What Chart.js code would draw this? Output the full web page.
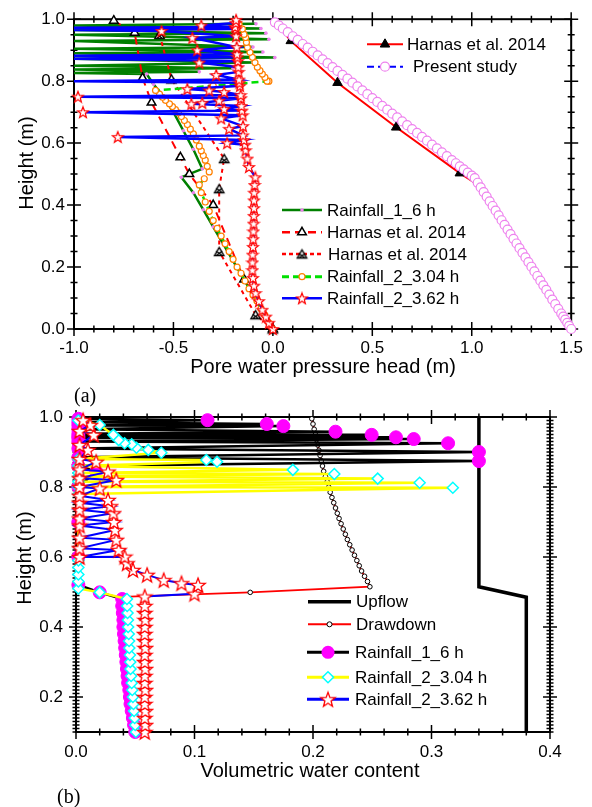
<!DOCTYPE html>
<html>
<head>
<meta charset="utf-8">
<script src="https://cdn.jsdelivr.net/npm/chart.js@4.4.1/dist/chart.umd.min.js"></script>
<style>
html, body { margin: 0; padding: 0; background: #fff; }
#wrap { position: relative; width: 592px; height: 807px; overflow: hidden; }
canvas { position: absolute; left: 0; }
#c1 { top: 0; width: 592px; height: 385px; }
#c2 { top: 385px; width: 592px; height: 422px; }
.tag { position: absolute; font-family: "Liberation Serif", serif; font-size: 20px; color: #000; line-height: 23px; }
</style>
</head>
<body>
<div id="wrap">
  <canvas id="c1" width="592" height="385"></canvas>
  <canvas id="c2" width="592" height="422"></canvas>
  <div class="tag" style="left:74px; top:384px">(a)</div>
  <div class="tag" style="left:57px; top:785px">(b)</div>
</div>
<script>
// ---- axis ticks / labels
const topXTicks = [-1.0, -0.5, 0.0, 0.5, 1.0, 1.5];
const topYTicks = [0.0, 0.2, 0.4, 0.6, 0.8, 1.0];
const botXTicks = [0.0, 0.1, 0.2, 0.3, 0.4];
const botYTicks = [0.2, 0.4, 0.6, 0.8, 1.0];
const topLabels = ['Harnas et al. 2014', 'Present study', 'Rainfall_1_6 h', 'Harnas et al. 2014',
                   'Harnas et al. 2014', 'Rainfall_2_3.04 h', 'Rainfall_2_3.62 h'];
const botLabels = ['Upflow', 'Drawdown', 'Rainfall_1_6 h', 'Rainfall_2_3.04 h', 'Rainfall_2_3.62 h'];

// ---- (a) pore water pressure head vs height
const harnasX = [0.0, 0.09, 0.325, 0.62, 0.94, 1.02, 1.5];
const harnasY = [1.0, 0.93, 0.795, 0.651, 0.503, 0.47, 0.0];

const presentX = [0.01, 0.03, 0.05, 0.075, 0.10, 0.125, 0.15, 0.175, 0.20, 0.225, 0.25, 0.275, 0.30, 0.325,
  0.35, 0.375, 0.40, 0.425, 0.45, 0.475, 0.50, 0.525, 0.55, 0.575, 0.60, 0.625, 0.65, 0.675, 0.70, 0.725,
  0.75, 0.775, 0.80, 0.825, 0.85, 0.875, 0.90, 0.92, 0.94, 0.96, 0.98, 1.00, 1.015,
  1.03, 1.045, 1.06, 1.075, 1.09, 1.105, 1.12, 1.135, 1.15, 1.165, 1.18, 1.195, 1.21, 1.225, 1.24, 1.255,
  1.27, 1.285, 1.30, 1.315, 1.33, 1.345, 1.36, 1.375, 1.39, 1.405, 1.42, 1.435, 1.45, 1.46, 1.47, 1.48, 1.49, 1.50];
const presentY = [0.99, 0.98, 0.97, 0.958, 0.945, 0.933, 0.92, 0.908, 0.895, 0.883, 0.87, 0.858, 0.845, 0.833,
  0.82, 0.808, 0.795, 0.783, 0.77, 0.758, 0.745, 0.733, 0.72, 0.708, 0.695, 0.683, 0.67, 0.658, 0.645, 0.633,
  0.62, 0.608, 0.595, 0.583, 0.57, 0.558, 0.545, 0.535, 0.525, 0.515, 0.505, 0.495, 0.487,
  0.472, 0.457, 0.442, 0.427, 0.412, 0.397, 0.382, 0.367, 0.351, 0.336, 0.321, 0.306, 0.291, 0.276, 0.261, 0.246,
  0.231, 0.216, 0.201, 0.186, 0.171, 0.156, 0.141, 0.126, 0.111, 0.095, 0.080, 0.065, 0.05, 0.04, 0.03, 0.02, 0.01, 0.0];

const rain1X = [0.0, -0.05, -0.1, -0.15, -0.2, -0.25, -0.3, -0.35, -0.4, -0.46,
  -0.355, -0.40, -0.45, -0.50, -0.55, -0.60, -0.635,
  -1.0, -0.37, -1.0, -0.2, -1.0, -0.1, -1.0, 0.01, -1.0, -0.05, -1.0, -0.1, -1.0, -0.02, -1.0, -0.035, -1.0, -0.06, -1.0, -0.085];
const rain1Y = [0.0, 0.055, 0.11, 0.165, 0.22, 0.275, 0.33, 0.385, 0.44, 0.49,
  0.517, 0.58, 0.64, 0.70, 0.75, 0.79, 0.823,
  0.826, 0.83, 0.838, 0.842, 0.85, 0.86, 0.872, 0.876, 0.89, 0.894, 0.905, 0.91, 0.93, 0.935, 0.95, 0.955, 0.965, 0.97, 0.98, 0.985];

const harnasOpenX = [-0.80, -0.695, -0.655, -0.61, -0.465, -0.42, -0.30, -0.145, 0.0];
const harnasOpenY = [0.995, 0.956, 0.81, 0.731, 0.554, 0.50, 0.40, 0.16, 0.0];

const harnasCrossX = [-0.57, -0.51, -0.245, -0.27, -0.27, -0.087, 0.0];
const harnasCrossY = [0.951, 0.807, 0.55, 0.453, 0.25, 0.046, 0.0];

const rain2aX = [0.0, -0.02, -0.04, -0.06, -0.08, -0.10, -0.12, -0.14, -0.16, -0.18, -0.20, -0.22, -0.24, -0.26,
  -0.28, -0.30, -0.32, -0.34, -0.36, -0.37, -0.345, -0.32, -0.33, -0.34, -0.35, -0.36, -0.37, -0.385, -0.40,
  -0.415, -0.43, -0.445, -0.46, -0.475, -0.49, -0.505, -0.52, -0.54, -0.555, -0.57, -0.59, -0.30, -0.02,
  -0.029, -0.04, -0.053, -0.065, -0.078, -0.09, -0.103, -0.115, -0.128, -0.133, -0.137, -0.145, -0.153, -0.17];
const rain2aY = [0.0, 0.02, 0.045, 0.065, 0.09, 0.11, 0.13, 0.155, 0.18, 0.20, 0.225, 0.25, 0.275, 0.30,
  0.325, 0.35, 0.38, 0.41, 0.44, 0.465, 0.485, 0.507, 0.525, 0.545, 0.56, 0.575, 0.59, 0.61, 0.63,
  0.645, 0.66, 0.673, 0.686, 0.698, 0.708, 0.718, 0.727, 0.738, 0.748, 0.758, 0.77, 0.785, 0.80,
  0.80, 0.812, 0.823, 0.834, 0.845, 0.86, 0.877, 0.893, 0.909, 0.925, 0.941, 0.951, 0.968, 0.984];

const rain2bX = [0.0, -0.02, -0.035, -0.053, -0.07, -0.087, -0.095, -0.1, -0.103, -0.103, -0.102, -0.1, -0.099,
  -0.098, -0.097, -0.096, -0.095, -0.095, -0.094, -0.092, -0.088, -0.12, -0.128, -0.137, -0.14,
  -0.23, -0.145, -0.78, -0.15, -0.22, -0.15, -0.26, -0.152, -0.955, -0.155, -0.245, -0.158, -0.41, -0.355,
  -0.27, -0.16, -0.98, -0.162, -0.245, -0.32, -0.43, -0.165, -0.168, -1.0, -0.17, -0.285, -0.172, -0.174,
  -0.37, -0.176, -1.0, -0.178, -1.0, -0.18, -0.38, -0.182, -0.405, -0.185, -0.56, -1.0, -0.185, -1.0,
  -0.19, -0.36, -0.187, -0.185];
const rain2bY = [0.0, 0.02, 0.04, 0.062, 0.09, 0.116, 0.14, 0.165, 0.19, 0.215, 0.24, 0.265, 0.29,
  0.315, 0.34, 0.365, 0.39, 0.415, 0.44, 0.465, 0.49, 0.523, 0.55, 0.577, 0.595,
  0.60, 0.61, 0.62, 0.625, 0.646, 0.655, 0.68, 0.69, 0.70, 0.705, 0.71, 0.72, 0.727, 0.73,
  0.737, 0.745, 0.75, 0.755, 0.765, 0.77, 0.775, 0.785, 0.795, 0.80, 0.805, 0.82, 0.83, 0.845,
  0.86, 0.865, 0.872, 0.877, 0.882, 0.887, 0.90, 0.91, 0.94, 0.945, 0.962, 0.965, 0.968, 0.972,
  0.975, 0.98, 0.988, 0.998];

// ---- (b) volumetric water content vs height
const upflowX = [0.34, 0.34, 0.38, 0.38];
const upflowY = [1.0, 0.515, 0.485, 0.1];

const drawdownX = [0.199, 0.200, 0.201, 0.202, 0.203, 0.204, 0.205, 0.206, 0.207, 0.208, 0.209, 0.2105, 0.212,
  0.2133, 0.2145, 0.216, 0.2175, 0.219, 0.2205, 0.222, 0.2237, 0.2255, 0.2273, 0.229, 0.231, 0.233, 0.235,
  0.237, 0.239, 0.241, 0.2435, 0.246, 0.248, 0.147, 0.045];
const drawdownY = [0.995, 0.98, 0.965, 0.95, 0.935, 0.92, 0.905, 0.89, 0.875, 0.86, 0.845, 0.83, 0.815,
  0.80, 0.785, 0.77, 0.755, 0.74, 0.725, 0.71, 0.695, 0.68, 0.665, 0.65, 0.635, 0.62, 0.605,
  0.59, 0.575, 0.56, 0.545, 0.53, 0.515, 0.499, 0.487];

const wc1X = [0.050, 0.049, 0.048, 0.047, 0.046, 0.0455, 0.045, 0.044, 0.0435, 0.043, 0.0425, 0.042, 0.0415,
  0.041, 0.0405, 0.040, 0.040, 0.0395, 0.039, 0.039,
  0.02, 0.002, 0.002, 0.002, 0.002, 0.017, 0.002, 0.34, 0.002, 0.34, 0.002, 0.314, 0.002, 0.285, 0.002,
  0.27, 0.002, 0.2495, 0.002, 0.219, 0.002, 0.175, 0.002, 0.161, 0.002, 0.111, 0.002];
const wc1Y = [0.10, 0.12, 0.14, 0.16, 0.18, 0.20, 0.22, 0.24, 0.26, 0.28, 0.30, 0.32, 0.34,
  0.36, 0.38, 0.40, 0.42, 0.44, 0.46, 0.48,
  0.499, 0.52, 0.60, 0.70, 0.80, 0.844, 0.86, 0.874, 0.885, 0.90, 0.91, 0.925, 0.93, 0.937, 0.94,
  0.942, 0.945, 0.949, 0.952, 0.958, 0.965, 0.974, 0.976, 0.98, 0.985, 0.991, 0.995];

const wc2aX = [0.0505, 0.050, 0.0495, 0.049, 0.0485, 0.048, 0.0475, 0.047, 0.0465, 0.046, 0.0458, 0.0455,
  0.045, 0.0448, 0.0445, 0.044, 0.0438, 0.0435, 0.0432, 0.043,
  0.02, 0.002, 0.002, 0.002, 0.002, 0.002, 0.002, 0.318, 0.002, 0.29, 0.002, 0.2546, 0.002, 0.218, 0.002,
  0.183, 0.002, 0.119, 0.11, 0.002, 0.072, 0.061, 0.051, 0.047, 0.041, 0.036, 0.0315, 0.02, 0.002];
const wc2aY = [0.10, 0.12, 0.14, 0.16, 0.18, 0.20, 0.22, 0.24, 0.26, 0.28, 0.30, 0.32,
  0.34, 0.36, 0.38, 0.40, 0.42, 0.44, 0.46, 0.48,
  0.499, 0.51, 0.53, 0.55, 0.57, 0.59, 0.78, 0.798, 0.80, 0.812, 0.815, 0.824, 0.83, 0.837, 0.84,
  0.849, 0.86, 0.872, 0.877, 0.88, 0.898, 0.906, 0.912, 0.922, 0.925, 0.934, 0.949, 0.977, 0.99];

const wc2bX = [0.058, 0.0585, 0.058, 0.0585, 0.058, 0.058, 0.0585, 0.058, 0.058, 0.0585, 0.058, 0.058,
  0.0585, 0.058, 0.058, 0.058, 0.0585, 0.058, 0.058, 0.058,
  0.1, 0.103, 0.089, 0.074, 0.06, 0.048, 0.043, 0.041, 0.003, 0.036, 0.003, 0.034, 0.003, 0.033, 0.003,
  0.032, 0.003, 0.0315, 0.003, 0.029, 0.003, 0.027, 0.003, 0.02, 0.003, 0.034, 0.003, 0.027, 0.003,
  0.017, 0.003, 0.01, 0.003, 0.015, 0.003, 0.012, 0.006];
const wc2bY = [0.10, 0.12, 0.14, 0.16, 0.18, 0.20, 0.22, 0.24, 0.26, 0.28, 0.30, 0.32,
  0.34, 0.36, 0.38, 0.40, 0.42, 0.44, 0.46, 0.487,
  0.495, 0.52, 0.525, 0.534, 0.549, 0.563, 0.582, 0.601, 0.60, 0.62, 0.625, 0.649, 0.655, 0.677, 0.69,
  0.70, 0.71, 0.725, 0.735, 0.745, 0.755, 0.763, 0.775, 0.796, 0.80, 0.82, 0.825, 0.844, 0.85,
  0.872, 0.88, 0.906, 0.92, 0.949, 0.96, 0.977, 0.991];

// ---- helpers
const FONT = '"Liberation Sans", Arial, sans-serif';
const VIOLET = '#ee82ee';

function pts(xs, ys) { return xs.map((x, i) => ({ x: x, y: ys[i] })); }

function starImage(size, color, lw) {
  const c = document.createElement('canvas');
  c.width = c.height = size;
  const g = c.getContext('2d');
  const R = size / 2 - lw, r = R * 0.42, cx = size / 2, cy = size / 2 + R * 0.095;
  g.beginPath();
  for (let i = 0; i < 10; i++) {
    const a = -Math.PI / 2 + i * Math.PI / 5, rr = i % 2 ? r : R;
    g.lineTo(cx + rr * Math.cos(a), cy + rr * Math.sin(a));
  }
  g.closePath();
  g.fillStyle = '#fff'; g.fill();
  g.strokeStyle = color; g.lineWidth = lw; g.stroke();
  return c;
}

function crossTriImage(size) {
  const c = document.createElement('canvas');
  c.width = c.height = size;
  const g = c.getContext('2d');
  const R = size / 2 - 1, cx = size / 2, cy = size / 2 + R * 0.25;
  g.strokeStyle = '#000'; g.lineWidth = 1.3;
  g.beginPath();
  g.moveTo(cx, cy - R);
  g.lineTo(cx - R * 0.866, cy + R * 0.5);
  g.lineTo(cx + R * 0.866, cy + R * 0.5);
  g.closePath();
  g.fillStyle = '#fff'; g.fill(); g.stroke();
  g.beginPath();
  g.moveTo(cx - R * 0.55, cy - R * 0.35); g.lineTo(cx + R * 0.55, cy + R * 0.5);
  g.moveTo(cx + R * 0.55, cy - R * 0.35); g.lineTo(cx - R * 0.55, cy + R * 0.5);
  g.stroke();
  return c;
}

const starTop = starImage(14, '#ff0000', 1.2);
const starBot = starImage(18, '#ff0000', 1.3);
const crossTri = crossTriImage(13);

function drawMarker(ctx, m, x, y) {
  if (!m) return;
  ctx.save();
  ctx.setLineDash([]);
  if (m.img) {
    ctx.drawImage(m.img, x - m.img.width / 2, y - m.img.height / 2);
    ctx.restore();
    return;
  }
  const r = m.r;
  ctx.lineWidth = m.lw || 1;
  ctx.beginPath();
  if (m.shape === 'circle') {
    ctx.arc(x, y, r, 0, Math.PI * 2);
  } else if (m.shape === 'triangle') {
    ctx.moveTo(x, y - r);
    ctx.lineTo(x + r * 0.866, y + r * 0.5);
    ctx.lineTo(x - r * 0.866, y + r * 0.5);
  } else if (m.shape === 'diamond') {
    ctx.moveTo(x, y - r); ctx.lineTo(x + r, y); ctx.lineTo(x, y + r); ctx.lineTo(x - r, y);
  }
  ctx.closePath();
  if (m.fill) { ctx.fillStyle = m.fill; ctx.fill(); }
  if (m.stroke) { ctx.strokeStyle = m.stroke; ctx.stroke(); }
  ctx.restore();
}

function drawLegend(ctx, lg) {
  lg.items.forEach((it, i) => {
    const y = lg.rows[i];
    const x0 = it.x0 !== undefined ? it.x0 : lg.x0;
    const x1 = it.x1 !== undefined ? it.x1 : lg.x1;
    const tx = it.tx !== undefined ? it.tx : lg.tx;
    ctx.save();
    ctx.strokeStyle = it.color; ctx.lineWidth = it.width;
    ctx.setLineDash(it.dash || []);
    ctx.beginPath(); ctx.moveTo(x0, y); ctx.lineTo(x1, y); ctx.stroke();
    ctx.restore();
    drawMarker(ctx, it.marker, (x0 + x1) / 2, y);
    ctx.save();
    ctx.fillStyle = '#000'; ctx.font = '17px ' + FONT;
    ctx.textAlign = 'left'; ctx.textBaseline = 'middle';
    ctx.fillText(it.label, tx, y + 1);
    ctx.restore();
  });
}

// frame with mirrored, crossing ticks + titles + legends
const framePlugin = {
  id: 'frame',
  beforeDatasetsDraw(chart) {
    const o = chart.options.plugins.frame;
    const { ctx, chartArea: a } = chart;
    const sx = chart.scales.x, sy = chart.scales.y;
    ctx.save();
    ctx.strokeStyle = '#000';
    ctx.setLineDash([]);
    ctx.lineWidth = 2;
    ctx.strokeRect(a.left, a.top, a.right - a.left, a.bottom - a.top);
    ctx.lineWidth = 1.5;
    ctx.beginPath();
    const xTick = (v, len) => {
      const p = sx.getPixelForValue(v);
      ctx.moveTo(p, a.bottom - len); ctx.lineTo(p, a.bottom + len);
      ctx.moveTo(p, a.top - len); ctx.lineTo(p, a.top + len);
    };
    const yTick = (v, len) => {
      const p = sy.getPixelForValue(v);
      ctx.moveTo(a.left - len, p); ctx.lineTo(a.left + len, p);
      ctx.moveTo(a.right - len, p); ctx.lineTo(a.right + len, p);
    };
    for (let v = sx.min; v <= sx.max + 1e-9; v += o.xMinor) xTick(v, 3.5);
    for (let v = sy.min; v <= sy.max + 1e-9; v += o.yMinor) yTick(v, 3.5);
    o.xMajor.forEach(v => xTick(v, 7));
    o.yMajor.forEach(v => yTick(v, 7));
    ctx.stroke();
    ctx.restore();
  },
  afterDraw(chart) {
    const o = chart.options.plugins.frame;
    const ctx = chart.ctx;
    ctx.save();
    ctx.fillStyle = '#000';
    ctx.font = '20px ' + FONT;
    ctx.textAlign = 'center'; ctx.textBaseline = 'middle';
    ctx.fillText(o.xTitle, o.xTitlePos[0], o.xTitlePos[1]);
    ctx.translate(o.yTitlePos[0], o.yTitlePos[1]);
    ctx.rotate(-Math.PI / 2);
    ctx.fillText(o.yTitle, 0, 0);
    ctx.restore();
    o.legends.forEach(lg => drawLegend(ctx, lg));
  }
};

function axis(min, max, ticks, pad, isX, size) {
  const s = {
    type: 'linear', min: min, max: max,
    grid: { display: false, drawTicks: false },
    border: { display: false },
    ticks: {
      color: '#000', padding: pad, autoSkip: false, maxRotation: 0,
      font: { family: FONT, size: 17 },
      callback: v => Number(v).toFixed(1)
    },
    afterBuildTicks: sc => { sc.ticks = ticks.map(v => ({ value: v })); }
  };
  if (isX) s.afterFit = sc => { sc.height = size; };
  else s.afterFit = sc => { sc.width = size; };
  return s;
}

function line(label, xs, ys, o) {
  return Object.assign({
    label: label, data: pts(xs, ys), showLine: true, tension: 0, clip: 16,
    pointHoverRadius: 0, pointHitRadius: 0
  }, o);
}

const leftEdgeR = r => c => (c.raw && c.raw.x <= -0.999 ? 0 : r);

// ---- chart (a)
new Chart(document.getElementById('c1'), {
  type: 'scatter',
  data: {
    datasets: [
      line(topLabels[6], rain2bX, rain2bY, { borderColor: '#0000ff', borderWidth: 2.5,
        pointStyle: starTop, pointRadius: leftEdgeR(6) }),
      line(topLabels[5], rain2aX, rain2aY, { borderColor: '#00e000', borderWidth: 2.5, borderDash: [7, 4],
        pointStyle: 'circle', pointRadius: 3, pointBackgroundColor: '#fff', pointBorderColor: '#ff8000', pointBorderWidth: 1.2 }),
      line(topLabels[4], harnasCrossX, harnasCrossY, { borderColor: '#ff0000', borderWidth: 2, borderDash: [4, 4],
        pointStyle: crossTri, pointRadius: 6 }),
      line(topLabels[3], harnasOpenX, harnasOpenY, { borderColor: '#ff0000', borderWidth: 2, borderDash: [8, 6],
        pointStyle: 'triangle', pointRadius: 5, pointBackgroundColor: '#fff', pointBorderColor: '#000', pointBorderWidth: 1.5 }),
      line(topLabels[2], rain1X, rain1Y, { borderColor: '#008000', borderWidth: 2.5,
        pointStyle: 'circle', pointRadius: leftEdgeR(1.8), pointBackgroundColor: VIOLET, pointBorderColor: VIOLET, pointBorderWidth: 0 }),
      line(topLabels[1], presentX, presentY, { borderColor: '#0000ff', borderWidth: 1.5, borderDash: [7, 4],
        pointStyle: 'circle', pointRadius: 4.5, pointBackgroundColor: '#fff', pointBorderColor: VIOLET, pointBorderWidth: 1.2 }),
      line(topLabels[0], harnasX, harnasY, { borderColor: '#ff0000', borderWidth: 2,
        pointStyle: 'triangle', pointRadius: c => (c.dataIndex === 0 || c.dataIndex >= 5 ? 0 : 5.5),
        pointBackgroundColor: '#000', pointBorderColor: '#000', pointBorderWidth: 1 })
    ]
  },
  options: {
    responsive: false, animation: false, events: [],
    layout: { padding: { top: 18, right: 19, left: 0, bottom: 0 } },
    scales: {
      x: axis(-1.0, 1.5, topXTicks, 9, true, 56),
      y: axis(0.0, 1.0, topYTicks, 9, false, 74)
    },
    plugins: {
      legend: { display: false }, tooltip: { enabled: false },
      frame: {
        xMajor: topXTicks, yMajor: topYTicks, xMinor: 0.1, yMinor: 0.05,
        xTitle: 'Pore water pressure head (m)', xTitlePos: [323, 367],
        yTitle: 'Height (m)', yTitlePos: [27, 163],
        legends: [
          { x0: 367, x1: 403, tx: 407, rows: [44.3, 66.7], items: [
            { label: topLabels[0], color: '#ff0000', width: 2,
              marker: { shape: 'triangle', r: 5.5, fill: '#000', stroke: '#000' } },
            { label: topLabels[1], color: '#0000ff', width: 2, dash: [7, 4], tx: 413,
              marker: { shape: 'circle', r: 4.5, fill: '#fff', stroke: VIOLET, lw: 1.2 } }
          ] },
          { x0: 282, x1: 322, tx: 327, rows: [210, 232.3, 254, 276.7, 298.3], items: [
            { label: topLabels[2], color: '#008000', width: 2.5,
              marker: { shape: 'circle', r: 1.8, fill: VIOLET } },
            { label: topLabels[3], color: '#ff0000', width: 2.5, dash: [8, 5],
              marker: { shape: 'triangle', r: 5, fill: '#fff', stroke: '#000', lw: 1.5 } },
            { label: topLabels[4], color: '#ff0000', width: 2.5, dash: [4, 3], tx: 328,
              marker: { img: crossTri } },
            { label: topLabels[5], color: '#00e000', width: 3, dash: [7, 4],
              marker: { shape: 'circle', r: 3, fill: '#fff', stroke: '#ff8000', lw: 1.2 } },
            { label: topLabels[6], color: '#0000ff', width: 2.5,
              marker: { img: starTop } }
          ] }
        ]
      }
    }
  },
  plugins: [framePlugin]
});

// ---- chart (b)
new Chart(document.getElementById('c2'), {
  type: 'scatter',
  data: {
    datasets: [
      line(botLabels[4], wc2bX, wc2bY, { borderColor: '#0000ff', borderWidth: 2,
        pointStyle: starBot, pointRadius: 8 }),
      line(botLabels[3], wc2aX, wc2aY, { borderColor: '#ffff00', borderWidth: 2.5,
        pointStyle: 'rectRot', pointRadius: 5.5, pointBackgroundColor: '#fff', pointBorderColor: '#00ffff', pointBorderWidth: 1.5 }),
      line(botLabels[2], wc1X, wc1Y, { borderColor: '#000', borderWidth: 2.5,
        pointStyle: 'circle', pointRadius: 6.5, pointBackgroundColor: '#ff00ff', pointBorderColor: '#ff00ff', pointBorderWidth: 1 }),
      line(botLabels[1], drawdownX, drawdownY, { borderColor: '#ff0000', borderWidth: 1.8,
        pointStyle: 'circle', pointRadius: c => (c.dataIndex === drawdownX.length - 1 ? 0 : 2.3),
        pointBackgroundColor: '#fff', pointBorderColor: '#000', pointBorderWidth: 1 }),
      line(botLabels[0], upflowX, upflowY, { borderColor: '#000', borderWidth: 3.5, pointRadius: 0 })
    ]
  },
  options: {
    responsive: false, animation: false, events: [],
    layout: { padding: { top: 32, right: 42, left: 0, bottom: 0 } },
    scales: {
      x: axis(0.0, 0.4, botXTicks, 10, true, 75),
      y: axis(0.1, 1.0, botYTicks, 13, false, 76)
    },
    plugins: {
      legend: { display: false }, tooltip: { enabled: false },
      frame: {
        xMajor: botXTicks, yMajor: botYTicks, xMinor: 0.02, yMinor: 0.01,
        xTitle: 'Volumetric water content', xTitlePos: [310, 386],
        yTitle: 'Height (m)', yTitlePos: [25, 173],
        legends: [
          { x0: 308, x1: 351, tx: 356, rows: [216.7, 239.3, 267.3, 292.3, 314.3], items: [
            { label: botLabels[0], color: '#000', width: 3.5 },
            { label: botLabels[1], color: '#ff0000', width: 2,
              marker: { shape: 'circle', r: 2.5, fill: '#fff', stroke: '#000', lw: 1 } },
            { label: botLabels[2], color: '#000', width: 3, x0: 307, x1: 349, tx: 355,
              marker: { shape: 'circle', r: 6.5, fill: '#ff00ff' } },
            { label: botLabels[3], color: '#ffff00', width: 3, x0: 307, x1: 349, tx: 355,
              marker: { shape: 'diamond', r: 5.5, fill: '#fff', stroke: '#00ffff', lw: 1.5 } },
            { label: botLabels[4], color: '#0000ff', width: 3, x0: 307, x1: 349, tx: 355,
              marker: { img: starBot } }
          ] }
        ]
      }
    }
  },
  plugins: [framePlugin]
});
</script>
</body>
</html>
